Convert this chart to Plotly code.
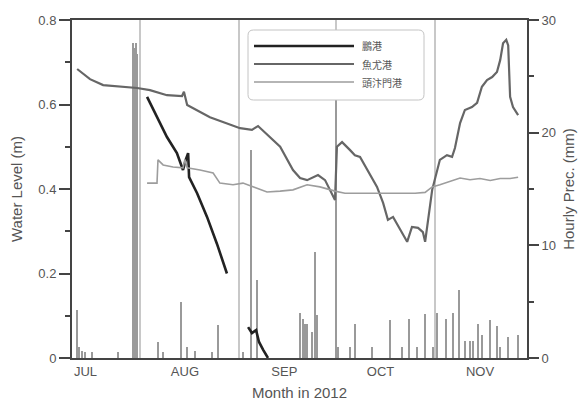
import pandas as pd
import plotly.graph_objects as go

BASE = pd.Timestamp("2012-07-01")

# ---- data (x in days since 2012-07-01) ----
names = ["鵬港", "魚尤港", "頭汴門港"]

s1_day = [33.2, 36.3, 39.4, 42.5, 44.4, 45.3, 46.0, 46.3, 48.8, 51.9, 55.0, 58.1,
          None,
          64.7, 65.9, 67.2, 68.1, 69.4, 70.9]
s1_val = [0.618, 0.570, 0.523, 0.485, 0.445, 0.47, 0.485, 0.428, 0.39, 0.334, 0.27, 0.20,
          None,
          0.073, 0.059, 0.066, 0.038, 0.019, 0.0]

s2_day = [11.4, 15.4, 19.5, 24.8, 30.1, 34.1, 39.4, 44.1, 44.7, 45.7, 52.8, 62.2, 65.9,
          67.8, 71.5, 74.7, 78.7, 80.9, 83.1, 86.5, 88.7, 90.2, 91.8, 92.4, 94.0, 96.5,
          98.0, 99.6, 101.8, 104.9, 106.8, 108.3, 109.9, 112.1, 114.3, 115.8, 117.7,
          119.2, 119.9, 122.1, 124.5, 126.7, 128.3, 129.2, 130.8, 132.3, 134.5, 136.1,
          137.6, 139.2, 140.8, 142.3, 143.3, 144.2, 145.2, 145.8, 146.4, 147.3, 148.9]
s2_val = [0.684, 0.660, 0.646, 0.642, 0.639, 0.634, 0.622, 0.620, 0.63, 0.599, 0.570,
          0.544, 0.540, 0.549, 0.523, 0.500, 0.445, 0.426, 0.421, 0.433, 0.421, 0.398,
          0.374, 0.50, 0.511, 0.492, 0.48, 0.476, 0.445, 0.405, 0.367, 0.327, 0.334,
          0.303, 0.275, 0.31, 0.308, 0.298, 0.275, 0.398, 0.469, 0.48, 0.476, 0.497,
          0.556, 0.587, 0.594, 0.604, 0.642, 0.658, 0.665, 0.677, 0.705, 0.745, 0.753,
          0.74, 0.618, 0.594, 0.575]

s3_day = [33.2, 36.3, 36.6, 38.2, 41.3, 44.4, 45.0, 45.7, 49.7, 53.8, 55.9, 60.0, 63.1,
          66.2, 70.6, 74.7, 78.7, 83.1, 87.1, 91.8, 94.9, 98.0, 102.7, 107.4, 112.1,
          116.8, 119.9, 122.1, 124.5, 127.6, 130.8, 133.9, 137.0, 140.2, 143.3, 146.4,
          148.9]
s3_val = [0.414, 0.414, 0.469, 0.457, 0.452, 0.45, 0.47, 0.45, 0.445, 0.438, 0.414,
          0.41, 0.414, 0.405, 0.393, 0.395, 0.398, 0.41, 0.405, 0.395, 0.39, 0.39, 0.39,
          0.39, 0.39, 0.39, 0.392, 0.405, 0.41, 0.418, 0.426, 0.422, 0.425, 0.42, 0.425,
          0.425, 0.428]

rain_day = [11.4, 12.0, 12.9, 13.9, 16.0, 24.1, 28.8, 29.1, 29.4, 29.7, 30.0, 36.6, 38.2,
            43.8, 45.7, 48.2, 53.5, 55.3, 63.1, 65.6, 67.5, 80.9, 81.8, 82.5, 83.1, 84.6,
            85.6, 86.2, 92.1, 92.7, 96.5, 98.0, 103.3, 109.0, 112.7, 114.9, 117.4, 119.9,
            122.4, 123.6, 126.4, 128.6, 130.5, 132.3, 133.9, 134.8, 136.4, 137.6, 140.1,
            142.3, 143.3, 145.8, 148.9]
rain_mm = [4.3, 1.0, 0.6, 0.5, 0.5, 0.5, 28, 27.5, 27.5, 28, 27, 1.4, 0.5, 5, 1, 0.6, 0.5,
           2.9, 0.5, 18.5, 6.9, 4, 3.5, 3, 3, 2.3, 9.4, 3.8, 23, 1, 1, 3, 1, 3.4, 1, 3.5, 1,
           3.9, 1, 4, 3.5, 4, 6, 1.5, 1.5, 1.5, 3, 2, 3.4, 2.8, 1, 1.9, 2]

month_labels = ["JUL", "AUG", "SEP", "OCT", "NOV"]
month_label_dates = ["2012-07-15", "2012-08-15", "2012-09-15", "2012-10-15", "2012-11-15"]
month_starts = ["2012-08-01", "2012-09-01", "2012-10-01", "2012-11-01"]
x_range = ["2012-07-10 19:00", "2012-11-29 16:00"]


def to_dates(days):
    return [None if d is None else BASE + pd.Timedelta(days=d) for d in days]


TXT = "#555555"
AX = "#444444"
FONT = "Liberation Sans, Arial, sans-serif"

fig = go.Figure()

fig.add_trace(go.Bar(
    x=to_dates(rain_day), y=rain_mm, yaxis="y", showlegend=False,
    marker=dict(color="#9a9a9a", line=dict(width=0)),
    width=0.65 * 86400000,
))

line_styles = [("#222222", 2.6), ("#666666", 2.2), ("#9d9d9d", 1.6)]
for name, days, vals, (c, w) in zip(names, [s1_day, s2_day, s3_day],
                                     [s1_val, s2_val, s3_val], line_styles):
    fig.add_trace(go.Scatter(
        x=to_dates(days), y=vals, yaxis="y2", mode="lines", name=name,
        line=dict(color=c, width=w), connectgaps=False, showlegend=False,
    ))

# ---- hand-drawn legend (paper coordinates) ----
PL, PR, PT, PB = 72, 527, 20, 358


def px(x):
    return (x - PL) / (PR - PL)


def py(y):
    return (PB - y) / (PB - PT)


x0, x1, y0, y1, r = px(248), px(424), py(30), py(100), 0.012
box_path = (f"M {x0+r},{y0} L {x1-r},{y0} Q {x1},{y0} {x1},{y0-r*1.35} "
            f"L {x1},{y1+r*1.35} Q {x1},{y1} {x1-r},{y1} L {x0+r},{y1} "
            f"Q {x0},{y1} {x0},{y1+r*1.35} L {x0},{y0-r*1.35} Q {x0},{y0} {x0+r},{y0} Z")
shapes = [dict(type="path", xref="paper", yref="paper", path=box_path,
               line=dict(color="#c4c4c4", width=1), fillcolor="white", layer="above")]
annotations = []
for i, (name, (c, w)) in enumerate(zip(names, line_styles)):
    yy = py(46 + i * 18)
    shapes.append(dict(type="line", xref="paper", yref="paper", x0=px(254), x1=px(354),
                       y0=yy, y1=yy, line=dict(color=c, width=w), layer="above"))
    annotations.append(dict(xref="paper", yref="paper", x=px(360), y=yy, text=name,
                            showarrow=False, xanchor="left", yanchor="middle",
                            font=dict(size=10, color=TXT, family="Noto Sans CJK TC")))

fig.update_layout(
    width=582, height=403,
    margin=dict(l=PL, r=582 - PR, t=PT, b=403 - PB, autoexpand=False),
    paper_bgcolor="white", plot_bgcolor="white",
    font=dict(family=FONT, color=TXT, size=13),
    bargap=0, showlegend=False,
    shapes=shapes, annotations=annotations,
    xaxis=dict(
        type="date", range=x_range, automargin=False,
        tickmode="array", tickvals=month_label_dates, ticktext=month_labels,
        ticks="", showgrid=False, showline=True, linecolor=AX, linewidth=2,
        mirror=True, zeroline=False,
        tickfont=dict(size=13, color=TXT),
        title=dict(text="Month in 2012", font=dict(size=15, color=TXT), standoff=10),
        minor=dict(tickmode="array", tickvals=month_starts, showgrid=True,
                   gridcolor="#c8c8c8", gridwidth=1.5, ticks=""),
    ),
    yaxis=dict(
        side="right", range=[0, 30], tickvals=[0, 10, 20, 30], automargin=False,
        ticks="outside", ticklen=10, tickwidth=1.5, tickcolor=AX,
        showline=True, linecolor=AX, linewidth=2, showgrid=False, zeroline=False,
        tickfont=dict(size=13, color=TXT),
        minor=dict(tickvals=[5, 15, 25], ticks="outside", ticklen=5, tickcolor=AX,
                   tickwidth=1.5, showgrid=False),
        title=dict(text="Hourly Prec. (mm)", font=dict(size=15, color=TXT), standoff=8),
    ),
    yaxis2=dict(
        overlaying="y", side="left", range=[0, 0.8], automargin=False,
        tickvals=[0, 0.2, 0.4, 0.6, 0.8], ticktext=["0", "0.2", "0.4", "0.6", "0.8"],
        ticks="outside", ticklen=11, tickwidth=1.5, tickcolor=AX,
        showline=True, linecolor=AX, linewidth=2, showgrid=False, zeroline=False,
        tickfont=dict(size=13, color=TXT),
        minor=dict(tickvals=[0.1, 0.3, 0.5, 0.7], ticks="outside", ticklen=5,
                   tickcolor=AX, tickwidth=1.5, showgrid=False),
        title=dict(text="Water Level (m)", font=dict(size=15, color=TXT), standoff=12),
    ),
)

fig.write_html("out.html")
